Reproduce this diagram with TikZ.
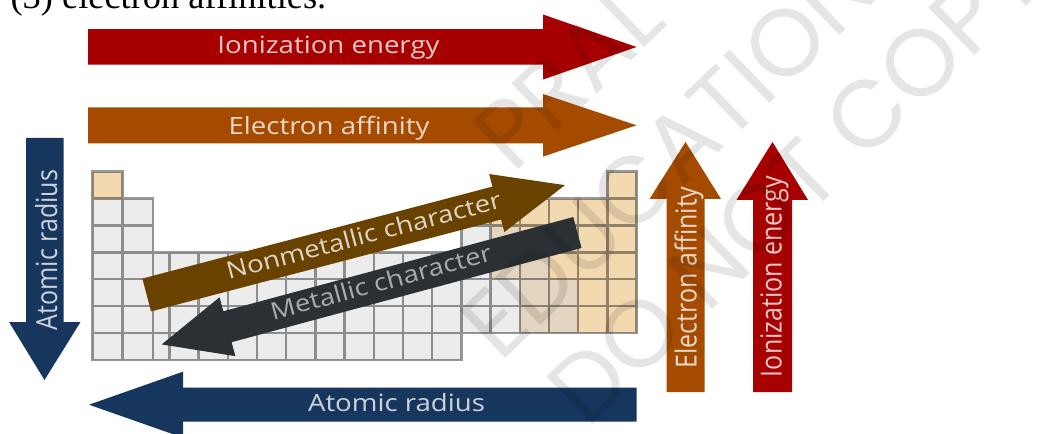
\documentclass[tikz,border=0pt]{standalone}
\usepackage{fontspec}
\newfontfamily\labelfont{Open Sans}
\newfontfamily\bodyfont{Liberation Serif}
\newfontfamily\markfont{Poppins}
\definecolor{iered}{RGB}{166,0,0}
\definecolor{eaorange}{RGB}{165,75,0}
\definecolor{arnavy}{RGB}{23,54,93}
\definecolor{nmbrown}{RGB}{106,66,0}
\definecolor{mdark}{RGB}{43,48,52}
\definecolor{cellgray}{RGB}{236,236,236}
\definecolor{celltan}{RGB}{243,217,176}
\definecolor{cellmid}{RGB}{227,213,192}
\begin{document}
\begin{tikzpicture}[x=0.75pt,y=-0.75pt,
  lbl/.style={font=\labelfont\fontsize{17.85}{20}\selectfont, text=white, text opacity=0.78, inner sep=0},
  hlbl/.style={lbl, anchor=base, xscale=1.16},
  vlbl/.style={lbl, font=\labelfont\fontsize{18.75}{21}\selectfont, anchor=base, rotate=90, yscale=1.16},
  dlbl/.style={lbl, anchor=base, xscale=1.16},
  wmark/.style={font=\markfont\fontsize{71}{80}\selectfont, text=black, text opacity=0.1, inner sep=0, anchor=base west, rotate=44},
  gridline/.style={draw=black, draw opacity=0.4, line width=1.8pt}]
\useasboundingbox (0,0) rectangle (1041,434);
\clip (0,0) rectangle (1041,434);

% line of body text above the figure
\node[anchor=base west, inner sep=0, font=\bodyfont\fontsize{27.3}{30}\selectfont] (caption) at (10.3,9) {(3) electron affinities.};

% ---------- periodic table ----------
% base fills
\fill[celltan] (92.3,171.7) rectangle (122.5,198.6);
\fill[celltan] (607.45,171.7) rectangle (636.66,198.6);
\fill[cellgray] (92.3,198.6) rectangle (152.7,360);
\fill[cellgray] (152.7,252.4) rectangle (636.66,333.1);
\fill[cellgray] (152.7,333.1) rectangle (461.4,360);
\fill[cellgray] (461.4,198.6) rectangle (636.66,252.4);
% nonmetals
\foreach \c/\r in {14/2,15/2,16/2,17/2,18/2,15/3,16/3,17/3,18/3,16/4,17/4,18/4,17/5,18/5,17/6,18/6}
  \fill[celltan] ({169.3+(\c-3)*29.21},{171.7+(\r-1)*26.9}) rectangle ++(29.21,26.9);
% metalloid staircase
\foreach \c/\r in {13/2,14/3,14/4,15/4,15/5,16/5,15/6,16/6}
  \fill[cellmid] ({169.3+(\c-3)*29.21},{171.7+(\r-1)*26.9}) rectangle ++(29.21,26.9);
% cell borders, stroked as one path
\draw[gridline]
  (92.3,171.7) rectangle ++(30.2,26.9)
  (607.45,171.7) rectangle ++(29.21,26.9)
  \foreach \r in {2,...,7} { (92.3,{171.7+(\r-1)*26.9}) rectangle ++(30.2,26.9) (122.5,{171.7+(\r-1)*26.9}) rectangle ++(30.2,26.9) }
  \foreach \r in {2,3} { \foreach \c in {13,...,18} { ({169.3+(\c-3)*29.21},{171.7+(\r-1)*26.9}) rectangle ++(29.21,26.9) } }
  \foreach \r in {4,5,6} { (152.7,{171.7+(\r-1)*26.9}) rectangle ++(16.6,26.9) \foreach \c in {3,...,18} { ({169.3+(\c-3)*29.21},{171.7+(\r-1)*26.9}) rectangle ++(29.21,26.9) } }
  (152.7,333.1) rectangle ++(16.6,26.9)
  \foreach \c in {3,...,12} { ({169.3+(\c-3)*29.21},333.1) rectangle ++(29.21,26.9) };

% ---------- trend arrows ----------
% ionization energy, left to right
\fill[iered] (88,29.25) -- (543,29.25) -- (543,14.5) -- (636.5,47) -- (543,79.5) -- (543,64.75) -- (88,64.75) -- cycle;
\node[hlbl] (ieh) at (328.5,53.3) {Ionization energy};
% electron affinity, left to right
\fill[eaorange] (88,107.3) -- (543,107.3) -- (543,94) -- (636.5,125.3) -- (543,156.6) -- (543,143.3) -- (88,143.3) -- cycle;
\node[hlbl] (eah) at (329,135) {Electron affinity};
% atomic radius, right to left
\fill[arnavy] (636.5,387.7) -- (183,387.7) -- (183,371.7) -- (89,404.7) -- (183,437.7) -- (183,421.7) -- (636.5,421.7) -- cycle;
\node[hlbl] (arh) at (396.5,411) {Atomic radius};
% atomic radius, top to bottom
\fill[arnavy] (26,138) -- (63.5,138) -- (63.5,322) -- (80.5,322) -- (44.5,380) -- (9,322) -- (26,322) -- cycle;
\node[vlbl] (arv) at (57,250) {Atomic radius};
% electron affinity, bottom to top
\fill[eaorange] (666.5,392) -- (704.5,392) -- (704.5,199) -- (721,199) -- (685.5,142) -- (649.5,199) -- (666.5,199) -- cycle;
\node[vlbl] (eav) at (696.5,277.5) {Electron affinity};
% ionization energy, bottom to top
\fill[iered] (753,392) -- (792,392) -- (792,200) -- (808,200) -- (772.5,142) -- (736.5,200) -- (753,200) -- cycle;
\node[vlbl] (iev) at (781.5,276.5) {Ionization energy};
% nonmetallic character, towards the upper right
\fill[nmbrown] (142.38,278.56) -- (492.43,186.61) -- (489.13,174.04) -- (564.93,185.14) -- (504.37,232.06) -- (501.07,219.49) -- (151.02,311.44) -- cycle;
\node[rotate=14.7, dlbl] (nmc) at (365.9,244) {Nonmetallic character};
% metallic character, towards the lower left
\fill[mdark] (573.24,217.05) -- (223.31,311.27) -- (219.54,297.27) -- (161.71,344.43) -- (235.40,356.17) -- (231.63,342.17) -- (581.56,247.95) -- cycle;
\node[rotate=15.1, dlbl, text opacity=0.6] (mc) at (383.2,290.7) {Metallic character};

% ---------- watermark ----------
\node[wmark] (wm1) at (513,175) {PRAL};
\node[wmark] (wm2) at (500,364) {EDUCATION};
\node[wmark] (wm3) at (587,430) {DO NOT COPY};
\end{tikzpicture}
\end{document}
